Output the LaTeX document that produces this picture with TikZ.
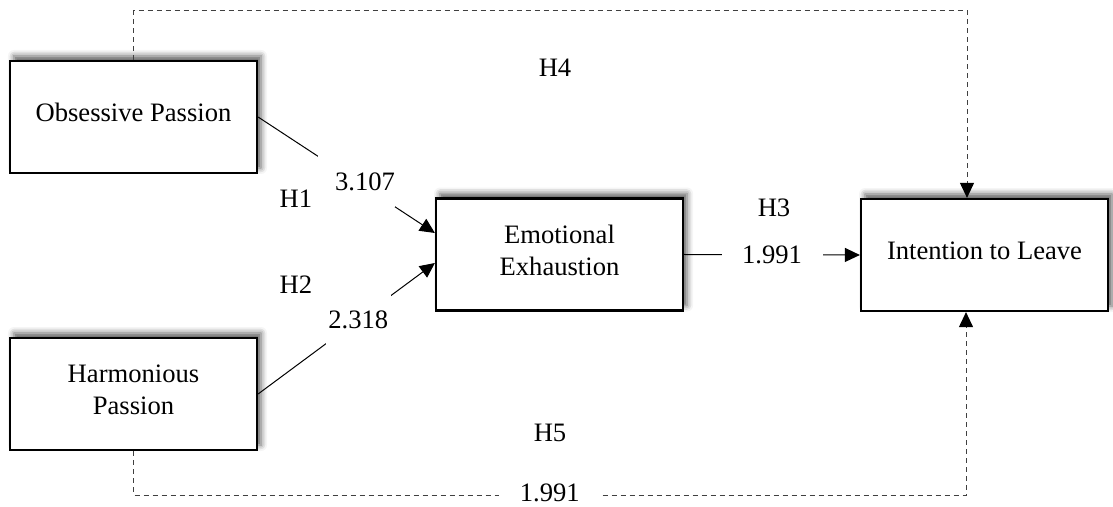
\documentclass[tikz,border=0pt]{standalone}
\usepackage{fontspec}
\setmainfont{Liberation Serif}
\usetikzlibrary{arrows.meta,shadows.blur}
\tikzset{
  varbox/.style={draw,line width=1.1pt,fill=white,minimum width=123.5pt,minimum height=56pt,
    align=center,text depth=4.5pt,
    blur shadow={shadow xshift=2pt,shadow yshift=2.5pt,shadow blur radius=3pt,shadow opacity=65}},
  solidarr/.style={line width=0.5pt,-{Triangle[length=7.5pt,width=7pt]}},
  dasharr/.style={line width=0.5pt,black!75,dash pattern=on 2.5pt off 2pt,
    -{Triangle[length=7.5pt,width=7pt,color=black]}},
  coef/.style={fill=white,text=black,inner sep=0pt,minimum height=26pt},
}
\begin{document}
\begin{tikzpicture}[x=0.5pt,y=-0.5pt,font=\fontsize{13.3}{16}\selectfont]
\useasboundingbox (0,0) rectangle (1113,507);
% boxes
\node[varbox] (op) at (133.5,117) {Obsessive Passion};
\node[varbox] (hp) at (133.5,394) {Harmonious\\Passion};
\node[varbox] (ee) at (559.5,254.5) {Emotional\\Exhaustion};
\node[varbox] (itl) at (984.5,255) {Intention to Leave};
% arrow ends
\coordinate (e1) at ([yshift=10.75pt]ee.west);
\coordinate (e2) at ([yshift=-4.25pt]ee.west);
\coordinate (t4) at ([xshift=-8.75pt]itl.north);
\coordinate (t5) at ([xshift=-9.25pt]itl.south);
% paths
\draw[solidarr] (op.east) -- node[coef,pos=0.556,minimum width=38.5pt,text width=38.5pt,align=right] (c1) {3.107} (e1);%H1
\draw[solidarr] (hp.east) -- node[coef,pos=0.567,minimum width=32.5pt] (c2) {2.318} (e2);%H2
\draw[solidarr] (ee.east) -- node[coef,minimum width=50.5pt] (c3) {1.991} (itl.west);%H3
\draw[dasharr] (op.north) -- ++(0,-49) -| (t4);%H4
\draw[dasharr] (hp.south) -- ++(0,44) -| node[coef,pos=0.25,minimum width=51pt,minimum height=0pt,inner ysep=0.5pt,yshift=1pt] (c5) {1.991} (t5);%H5
% hypothesis labels
\node (h1) at (296,199) {H1};
\node (h2) at (296,285) {H2};
\node (h3) at (774,208) {H3};
\node (h4) at (555,68) {H4};
\node (h5) at (550,433) {H5};
\end{tikzpicture}
\end{document}
